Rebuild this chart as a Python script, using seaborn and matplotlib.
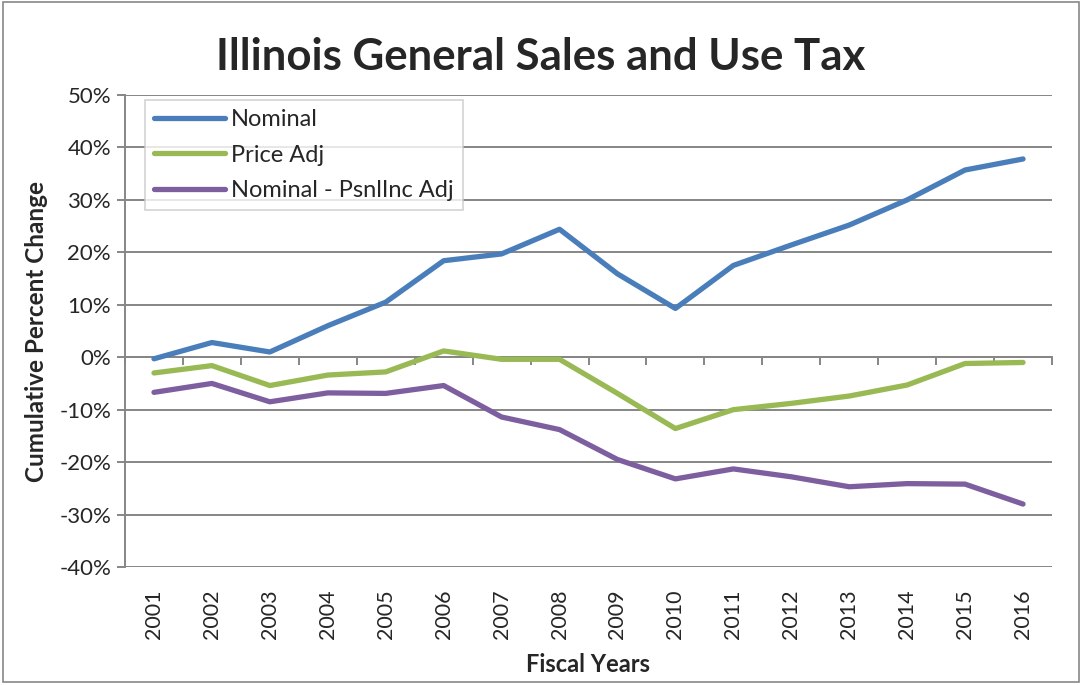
import pandas as pd
import matplotlib
matplotlib.use("Agg")
import matplotlib.pyplot as plt
import matplotlib.ticker as mticker
from matplotlib.patches import Rectangle
import seaborn as sns

years = list(range(2001, 2017))
nominal = [-0.3, 2.8, 1.0, 6.0, 10.5, 18.4, 19.7, 24.4, 15.9, 9.3, 17.5, 21.4, 25.2, 30.0, 35.7, 37.8]
price_adj = [-3.0, -1.6, -5.4, -3.4, -2.8, 1.2, -0.4, -0.4, -6.9, -13.6, -10.0, -8.8, -7.4, -5.3, -1.2, -1.0]
psnlinc_adj = [-6.7, -5.0, -8.5, -6.8, -6.9, -5.4, -11.4, -13.8, -19.5, -23.2, -21.3, -22.8, -24.7, -24.1, -24.2, -28.0]

series_names = ["Nominal", "Price Adj", "Nominal - PsnlInc Adj"]
colors = ["#4a7ebb", "#98b954", "#7d5fa0"]

df = pd.DataFrame({
    "year": years * 3,
    "value": nominal + price_adj + psnlinc_adj,
    "series": [series_names[0]] * 16 + [series_names[1]] * 16 + [series_names[2]] * 16,
})

sns.set_style("white")
plt.rcParams["font.family"] = ["Lato", "DejaVu Sans"]

fig = plt.figure(figsize=(10.82, 6.85), dpi=100)
ax = fig.add_axes([125 / 1082, 1 - 567 / 685, (1052 - 125) / 1082, (567 - 95) / 685])

sns.lineplot(data=df, x="year", y="value", hue="series", hue_order=series_names,
             palette=colors, linewidth=3.8, ax=ax, legend=True)
for line in ax.lines:
    line.set_solid_capstyle("round")

ax.set_xlim(2000.5, 2016.5)
ax.set_ylim(-40, 50)
ax.set_yticks(range(-40, 51, 10))
ax.yaxis.set_major_formatter(mticker.FuncFormatter(lambda v, p: f"{int(v)}%"))
ax.set_xticks(years)
ax.set_xticklabels([str(y) for y in years], rotation=90)

grid_c = "#868686"
ax.grid(axis="y", color=grid_c, linewidth=1.4)
ax.grid(axis="x", visible=False)
for s in ["top", "right", "bottom"]:
    ax.spines[s].set_visible(False)
ax.spines["left"].set_color(grid_c)
ax.spines["left"].set_linewidth(1.4)

ax.tick_params(axis="y", direction="out", length=6, width=1.4, color=grid_c,
               labelsize=16, pad=4, left=True)
ax.tick_params(axis="x", length=0, labelsize=15.5, pad=16)

# category axis crossing at 0%
sec = ax.secondary_xaxis(40 / 90)
sec.set_xticks([y + 0.5 for y in [2000] + years])
sec.set_xticklabels([])
sec.tick_params(direction="out", length=6, width=1.4, color=grid_c)
sec.spines["bottom"].set_color(grid_c)
sec.spines["bottom"].set_linewidth(1.4)

ax.set_xlabel("Fiscal Years", fontsize=17, fontweight="bold", labelpad=10)
ax.set_ylabel("Cumulative Percent Change", fontsize=17.5, fontweight="bold", labelpad=8)
fig.text(0.5, 1 - 57 / 685, "Illinois General Sales and Use Tax", ha="center", va="center",
         fontsize=31.5, fontweight="bold")

leg = ax.legend(loc="upper left", bbox_to_anchor=(20 / 927, 1 - 5 / 472), fontsize=17,
                frameon=True, fancybox=False, handlelength=3.0, handletextpad=0.25,
                borderpad=0.4, labelspacing=0.6, borderaxespad=0)
leg.get_frame().set_edgecolor("#c8c8c8")
leg.get_frame().set_linewidth(1.2)
for h in leg.get_lines():
    h.set_linewidth(3.8)

fig.add_artist(Rectangle((0.003, 0.004), 0.994, 0.993, transform=fig.transFigure,
                         fill=False, edgecolor="#888888", linewidth=1.2))

fig.savefig("out.png", dpi=100)
